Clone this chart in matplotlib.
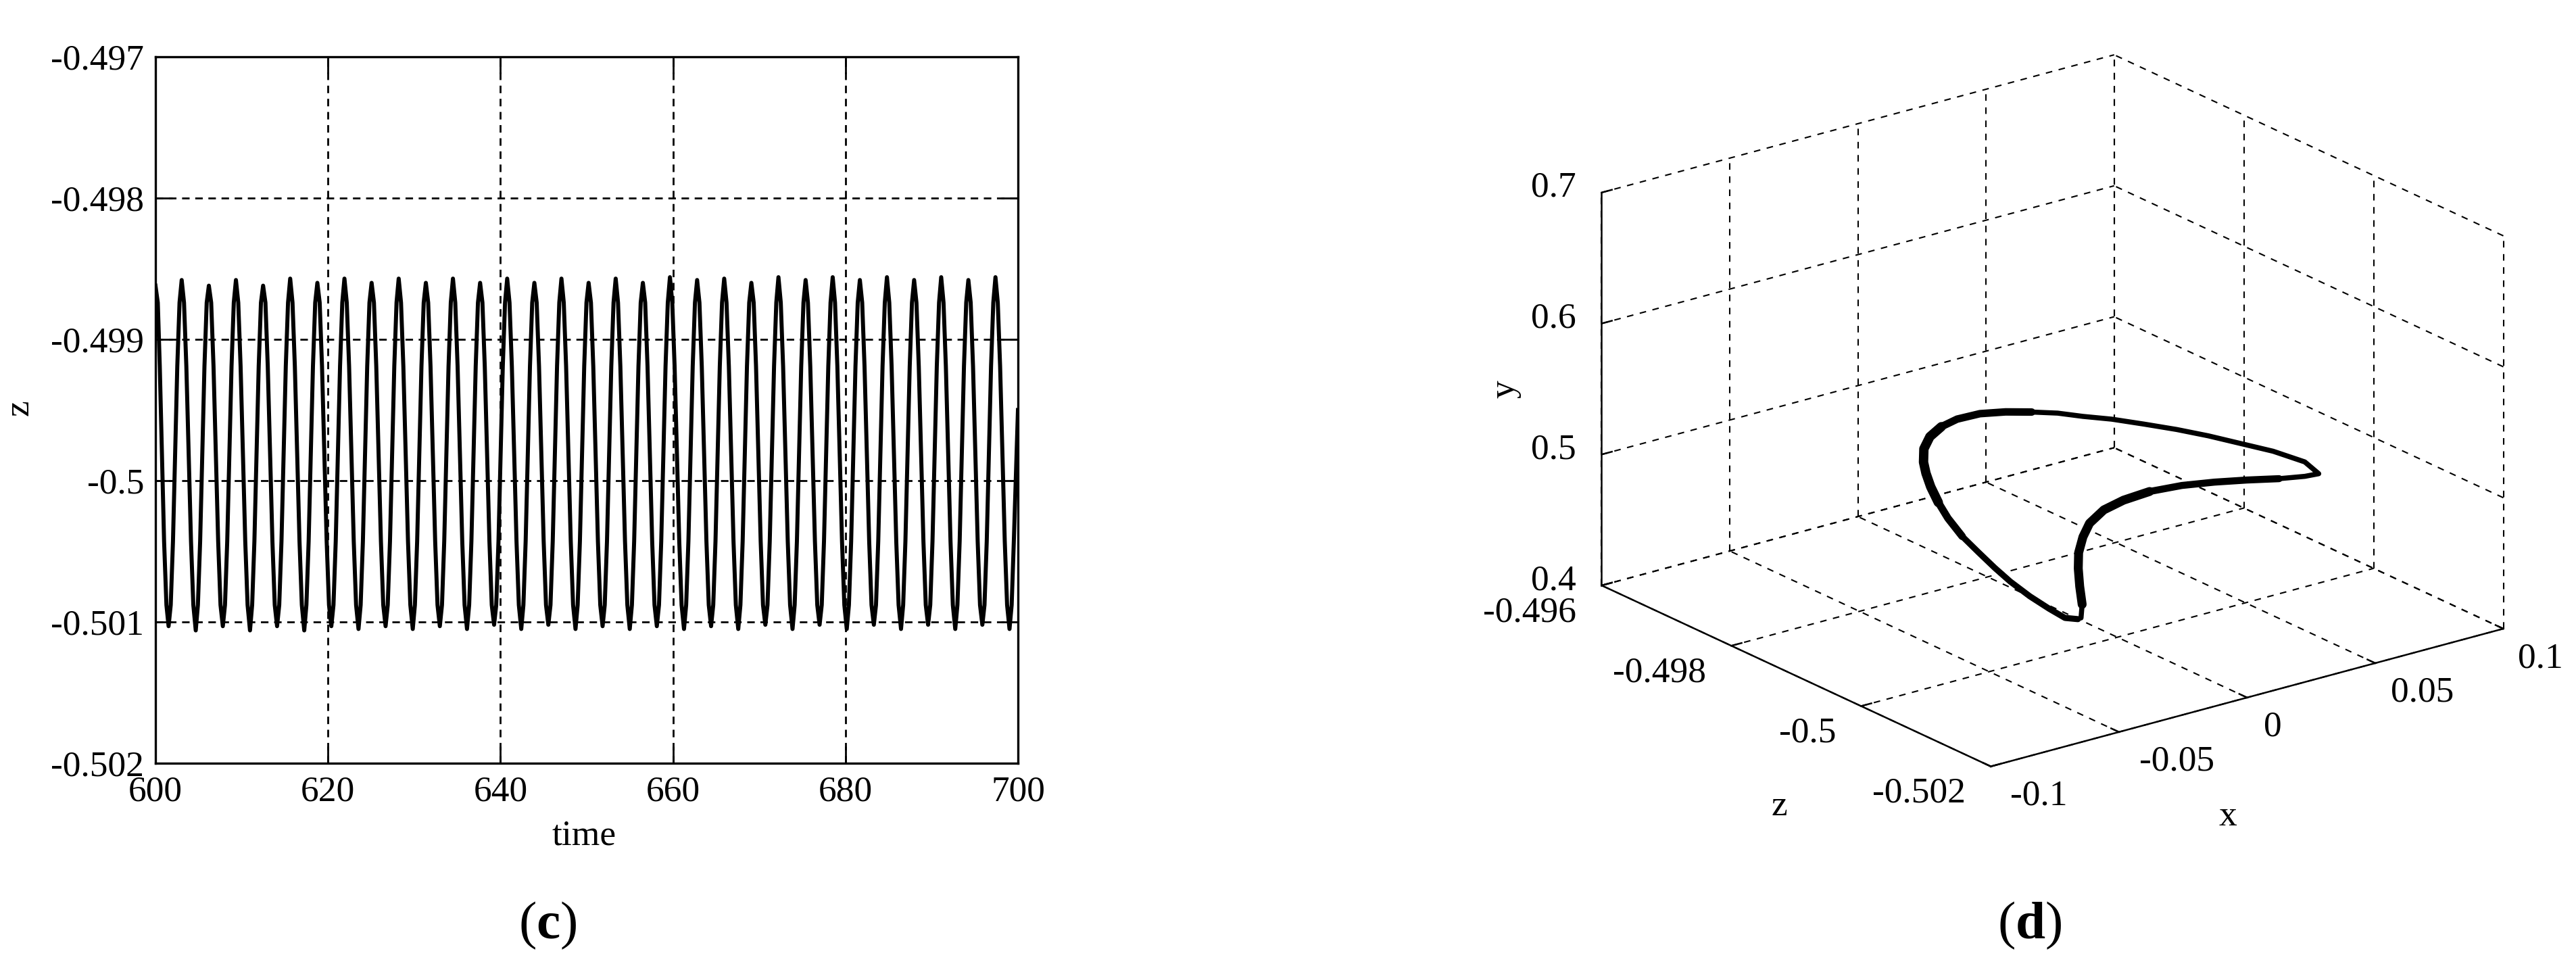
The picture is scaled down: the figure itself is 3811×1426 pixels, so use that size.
import matplotlib
matplotlib.use("Agg")
import matplotlib.pyplot as plt
from matplotlib.transforms import IdentityTransform
from mpl_toolkits.mplot3d import proj3d

plt.rcParams['font.family'] = ['Liberation Serif', 'DejaVu Serif']
plt.rcParams['mathtext.fontset'] = 'custom'
plt.rcParams['mathtext.rm'] = 'Liberation Serif'
plt.rcParams['mathtext.bf'] = 'Liberation Serif:bold'
plt.rcParams['lines.scale_dashes'] = False

# ---------- panel (c) data: z against time ----------
time_c = [
    600.00, 600.27, 600.50, 601.00, 601.27,
    601.52, 601.77, 602.03, 602.53, 602.79, 603.04, 603.31, 603.58, 604.12, 604.39,
    604.67, 604.92, 605.18, 605.68, 605.94, 606.19, 606.46, 606.73, 607.27, 607.54,
    607.81, 608.06, 608.32, 608.82, 609.08, 609.33, 609.60, 609.87, 610.41, 610.68,
    610.96, 611.21, 611.47, 611.97, 612.23, 612.48, 612.75, 613.02, 613.56, 613.83,
    614.10, 614.35, 614.61, 615.11, 615.37, 615.62, 615.89, 616.16, 616.70, 616.97,
    617.25, 617.50, 617.76, 618.26, 618.52, 618.77, 619.04, 619.31, 619.85, 620.12,
    620.39, 620.64, 620.90, 621.40, 621.66, 621.91, 622.18, 622.45, 622.99, 623.26,
    623.54, 623.79, 624.05, 624.55, 624.81, 625.06, 625.33, 625.60, 626.14, 626.41,
    626.68, 626.93, 627.19, 627.69, 627.95, 628.20, 628.47, 628.74, 629.28, 629.55,
    629.83, 630.08, 630.34, 630.84, 631.10, 631.35, 631.62, 631.89, 632.43, 632.70,
    632.97, 633.22, 633.48, 633.98, 634.24, 634.49, 634.76, 635.03, 635.57, 635.84,
    636.12, 636.37, 636.63, 637.13, 637.39, 637.64, 637.91, 638.18, 638.72, 638.99,
    639.26, 639.51, 639.77, 640.27, 640.53, 640.78, 641.05, 641.32, 641.86, 642.13,
    642.41, 642.66, 642.92, 643.42, 643.68, 643.93, 644.20, 644.47, 645.01, 645.28,
    645.55, 645.80, 646.06, 646.56, 646.82, 647.07, 647.34, 647.61, 648.15, 648.42,
    648.70, 648.95, 649.21, 649.71, 649.97, 650.22, 650.49, 650.76, 651.30, 651.57,
    651.84, 652.09, 652.35, 652.85, 653.11, 653.36, 653.63, 653.90, 654.44, 654.71,
    654.99, 655.24, 655.50, 656.00, 656.26, 656.51, 656.78, 657.05, 657.59, 657.86,
    658.13, 658.38, 658.64, 659.14, 659.40, 659.65, 659.92, 660.19, 660.73, 661.00,
    661.28, 661.53, 661.79, 662.29, 662.55, 662.80, 663.07, 663.34, 663.88, 664.15,
    664.42, 664.67, 664.93, 665.43, 665.69, 665.94, 666.21, 666.48, 667.02, 667.29,
    667.57, 667.82, 668.08, 668.58, 668.84, 669.09, 669.36, 669.63, 670.17, 670.44,
    670.71, 670.96, 671.22, 671.72, 671.98, 672.23, 672.50, 672.77, 673.31, 673.58,
    673.86, 674.11, 674.37, 674.87, 675.13, 675.38, 675.65, 675.92, 676.46, 676.73,
    677.00, 677.25, 677.51, 678.01, 678.27, 678.52, 678.79, 679.06, 679.60, 679.87,
    680.15, 680.40, 680.66, 681.16, 681.42, 681.67, 681.94, 682.21, 682.75, 683.02,
    683.29, 683.54, 683.80, 684.30, 684.56, 684.81, 685.08, 685.35, 685.89, 686.16,
    686.44, 686.69, 686.95, 687.45, 687.71, 687.96, 688.23, 688.50, 689.04, 689.31,
    689.58, 689.83, 690.09, 690.59, 690.85, 691.10, 691.37, 691.64, 692.18, 692.45,
    692.73, 692.98, 693.24, 693.74, 694.00, 694.25, 694.52, 694.79, 695.33, 695.60,
    695.87, 696.12, 696.38, 696.88, 697.14, 697.39, 697.66, 697.93, 698.47, 698.74,
    699.02, 699.27, 699.52, 700.00,
]
z_c = [
    -.49862, -.49874, -.49919, -.50043, -.50088,
    -.50103, -.50088, -.50043, -.49919, -.49874, -.49858, -.49874, -.49919, -.50043, -.50088,
    -.50106, -.50088, -.50043, -.49919, -.49874, -.49862, -.49874, -.49919, -.50043, -.50088,
    -.50103, -.50088, -.50043, -.49919, -.49874, -.49858, -.49874, -.49919, -.50043, -.50088,
    -.50106, -.50088, -.50043, -.49919, -.49874, -.49862, -.49874, -.49919, -.50043, -.50088,
    -.50103, -.50088, -.50043, -.49919, -.49874, -.49857, -.49874, -.49919, -.50043, -.50088,
    -.50106, -.50088, -.50043, -.49919, -.49874, -.49860, -.49874, -.49919, -.50043, -.50088,
    -.50103, -.50088, -.50043, -.49919, -.49874, -.49857, -.49874, -.49919, -.50043, -.50088,
    -.50105, -.50088, -.50043, -.49919, -.49874, -.49860, -.49874, -.49919, -.50043, -.50088,
    -.50103, -.50088, -.50043, -.49919, -.49874, -.49857, -.49874, -.49919, -.50043, -.50088,
    -.50105, -.50088, -.50043, -.49919, -.49874, -.49860, -.49874, -.49919, -.50043, -.50088,
    -.50103, -.50088, -.50043, -.49919, -.49874, -.49857, -.49874, -.49919, -.50043, -.50088,
    -.50105, -.50088, -.50043, -.49919, -.49874, -.49860, -.49874, -.49919, -.50043, -.50088,
    -.50102, -.50088, -.50043, -.49919, -.49874, -.49857, -.49874, -.49919, -.50043, -.50088,
    -.50105, -.50088, -.50043, -.49919, -.49874, -.49860, -.49874, -.49919, -.50043, -.50088,
    -.50102, -.50088, -.50043, -.49919, -.49874, -.49857, -.49874, -.49919, -.50043, -.50088,
    -.50105, -.50088, -.50043, -.49919, -.49874, -.49860, -.49874, -.49919, -.50043, -.50088,
    -.50103, -.50088, -.50043, -.49919, -.49874, -.49857, -.49874, -.49919, -.50043, -.50088,
    -.50105, -.50088, -.50043, -.49919, -.49874, -.49860, -.49874, -.49919, -.50043, -.50088,
    -.50103, -.50088, -.50043, -.49919, -.49874, -.49856, -.49874, -.49919, -.50043, -.50088,
    -.50105, -.50088, -.50043, -.49919, -.49874, -.49858, -.49874, -.49919, -.50043, -.50088,
    -.50103, -.50088, -.50043, -.49919, -.49874, -.49857, -.49874, -.49919, -.50043, -.50088,
    -.50105, -.50088, -.50043, -.49919, -.49874, -.49860, -.49874, -.49919, -.50043, -.50088,
    -.50102, -.50088, -.50043, -.49919, -.49874, -.49856, -.49874, -.49919, -.50043, -.50088,
    -.50105, -.50088, -.50043, -.49919, -.49874, -.49858, -.49874, -.49919, -.50043, -.50088,
    -.50102, -.50088, -.50043, -.49919, -.49874, -.49856, -.49874, -.49919, -.50043, -.50088,
    -.50105, -.50088, -.50043, -.49919, -.49874, -.49858, -.49874, -.49919, -.50043, -.50088,
    -.50102, -.50088, -.50043, -.49919, -.49874, -.49856, -.49874, -.49919, -.50043, -.50088,
    -.50105, -.50088, -.50043, -.49919, -.49874, -.49858, -.49874, -.49919, -.50043, -.50088,
    -.50102, -.50088, -.50043, -.49919, -.49874, -.49856, -.49874, -.49919, -.50043, -.50088,
    -.50105, -.50088, -.50043, -.49919, -.49874, -.49858, -.49874, -.49919, -.50043, -.50088,
    -.50102, -.50088, -.50043, -.49919, -.49874, -.49856, -.49874, -.49919, -.50043, -.50088,
    -.50105, -.50088, -.50043, -.49950,
]
time_ticks = [600, 620, 640, 660, 680, 700]
z_ticks_c = [-0.497, -0.498, -0.499, -0.5, -0.501, -0.502]
z_labels_c = ['-0.497', '-0.498', '-0.499', '-0.5', '-0.501', '-0.502']

# ---------- panel (d) data: closed orbit ----------
x_d = [-.0417, -.0460, -.0499, -.0544, -.0590, -.0605, -.0623, -.0641, -.0651,
       -.0643, -.0627, -.0600, -.0564, -.0517, -.0448, -.0373, -.0281, -.0177,
       -.0077, .0010, .0081, .0149, .0216, .0297, .0378, .0456, .0537, .0618,
       .0696, .0720, .0651, .0535, .0393, .0252, .0110, -.0031, -.0148, -.0240,
       -.0311, -.0352, -.0384, -.0393, -.0395, -.0393, -.0405]
y_d = [.4597, .4622, .4692, .4783, .4892, .4963, .5050, .5140, .5242,
       .5317, .5386, .5434, .5458, .5494, .5509, .5518, .5500, .5473,
       .5434, .5401, .5383, .5350, .5335, .5296, .5254, .5206, .5146, .5086,
       .5005, .4930, .4960, .5017, .5095, .5167, .5230, .5272, .5281, .5269,
       .5218, .5149, .5059, .4951, .4822, .4690, .4600]
z_d = [-.50104, -.50101, -.50092, -.50080, -.50068, -.50050, -.50032, -.50014, -.49996,
       -.49978, -.49960, -.49942, -.49924, -.49906, -.49888, -.49876, -.49864, -.49858,
       -.49858, -.49864, -.49876, -.49888, -.49906, -.49924, -.49942, -.49960, -.49978, -.49996,
       -.50014, -.50026, -.50032, -.50038, -.50044, -.50050, -.50056, -.50062, -.50068, -.50074,
       -.50080, -.50086, -.50092, -.50095, -.50098, -.50101, -.50104]
x_ticks_d = [-0.1, -0.05, 0, 0.05, 0.1]
x_labels_d = ['-0.1', '-0.05', '0', '0.05', '0.1']
y_ticks_d = [0.4, 0.5, 0.6, 0.7]
y_labels_d = ['0.4', '0.5', '0.6', '0.7']
z_ticks_d = [-0.496, -0.498, -0.5, -0.502]
z_labels_d = ['-0.496', '-0.498', '-0.5', '-0.502']

W, H = 3812, 1426
FS = 38.5
fig = plt.figure(figsize=(W / 100, H / 100), dpi=100, facecolor='white')


def frac_rect(x0, y0, x1, y1):
    return [x0 / W, 1 - y1 / H, (x1 - x0) / W, (y1 - y0) / H]


# ---------- panel (c) ----------
ax = fig.add_axes(frac_rect(230, 84, 1506, 1129))
ax.plot(time_c, z_c, color='black', lw=4.3, solid_joinstyle='round', zorder=3)
ax.set_xlim(600, 700)
ax.set_ylim(-0.502, -0.497)
ax.set_xticks(time_ticks)
ax.set_yticks(z_ticks_c)
ax.set_yticklabels(z_labels_c)
ax.grid(True, color='black', lw=2.0, linestyle=(0, (8.0, 6.0)))
ax.tick_params(direction='in', length=18, width=2.0, top=True, right=True,
               labelsize=FS, pad=12)
ax.tick_params(axis='x', pad=13)
for s in ax.spines.values():
    s.set_linewidth(2.4)
    s.set_zorder(5)
fig.text(864, H - 1237, 'time', transform=IdentityTransform(), fontsize=FS,
         ha='center', va='center')
fig.text(29, H - 603, 'z', transform=IdentityTransform(), fontsize=FS,
         ha='center', va='center', rotation=90)
fig.text(810, H - 1369, r'($\mathbf{c}$)', transform=IdentityTransform(),
         fontsize=57, ha='center', va='center')
fig.text(3003, H - 1369, r'($\mathbf{d}$)', transform=IdentityTransform(),
         fontsize=57, ha='center', va='center')

# ---------- panel (d) ----------
S0 = 1700
ax3 = fig.add_axes([0.5, 0.1, S0 / W, S0 / H], projection='3d', proj_type='ortho')
ax3.computed_zorder = False
ax3.set_axis_off()
ax3.view_init(elev=20.7, azim=-127.24)
ax3.set_box_aspect((952, 951, 621))
x0, x1 = x_ticks_d[0], x_ticks_d[-1]
y0, y1 = y_ticks_d[0], y_ticks_d[-1]
z0, z1 = z_ticks_d[-1], z_ticks_d[0]
ax3.set_xlim(x0, x1, view_margin=0)
ax3.set_ylim(z0, z1, view_margin=0)
ax3.set_zlim(y0, y1, view_margin=0)


def to_px(x, z, y):
    ax3.apply_aspect()
    px, py, _ = proj3d.proj_transform(x, z, y, ax3.get_proj())
    return ax3.transData.transform((px, py))


# fit the projected box onto its place in the figure
target_left = (2369.5, H - 866)
target_right = (3703.5, H - 930)
pl, pr = to_px(x0, z1, y0), to_px(x1, z0, y0)
S = S0 * (target_right[0] - target_left[0]) / (pr[0] - pl[0])
ax3.set_position([0.5, 0.1, S / W, S / H])
pl = to_px(x0, z1, y0)
ax3.set_position([0.5 + (target_left[0] - pl[0]) / W,
                  0.1 + (target_left[1] - pl[1]) / H, S / W, S / H])

grid = dict(color='black', lw=1.5, linestyle=(0, (7.0, 7.0)), zorder=1)
solid = dict(color='black', lw=1.8, zorder=2)
for xv in x_ticks_d:
    ax3.plot([xv, xv], [z0, z1], [y0, y0], **grid)
    ax3.plot([xv, xv], [z1, z1], [y0, y1], **grid)
for zv in z_ticks_d:
    ax3.plot([x0, x1], [zv, zv], [y0, y0], **grid)
    ax3.plot([x1, x1], [zv, zv], [y0, y1], **grid)
for yv in y_ticks_d:
    ax3.plot([x0, x1], [z1, z1], [yv, yv], **grid)
    ax3.plot([x1, x1], [z0, z1], [yv, yv], **grid)
ax3.plot([x0, x0], [z1, z1], [y0, y1], **solid)
ax3.plot([x0, x0], [z0, z1], [y0, y0], **solid)
ax3.plot([x0, x1], [z0, z0], [y0, y0], **solid)
# short tick marks along the grid directions
for xv in x_ticks_d:
    ax3.plot([xv, xv], [z0, z0 + 0.00012], [y0, y0], **solid)
for zv in z_ticks_d:
    ax3.plot([x0, x0 + 0.004], [zv, zv], [y0, y0], **solid)
for yv in y_ticks_d:
    ax3.plot([x0, x0 + 0.004], [z1, z1], [yv, yv], **solid)

# the orbit thickens where successive turns lie side by side
orbit_widths = [(0, 45, 5.4), (0, 10, 6.5), (7, 11, 8.0), (9, 16, 10.0), (15, 20, 8.0),
                (31, 37, 7.5), (35, 44, 9.5)]
for i0, i1, lw in orbit_widths:
    ax3.plot(x_d[i0:i1], z_d[i0:i1], y_d[i0:i1], color='black', lw=lw,
             solid_joinstyle='round', solid_capstyle='round', zorder=3)

tf = IdentityTransform()
for yv, lab in zip(y_ticks_d, y_labels_d):
    p = to_px(x0, z1, yv)
    fig.text(p[0] - 38, p[1] + 7, lab, transform=tf, fontsize=FS, ha='right', va='center')
for zv, lab in zip(z_ticks_d, z_labels_d):
    p = to_px(x0, zv, y0)
    fig.text(p[0] - 37, p[1] - 40, lab, transform=tf, fontsize=FS, ha='right', va='center')
for xv, lab, dx in zip(x_ticks_d, x_labels_d, [71, 86, 38, 70, 55]):
    p = to_px(xv, z0, y0)
    fig.text(p[0] + dx, p[1] - 44, lab, transform=tf, fontsize=FS, ha='center', va='center')
fig.text(2632.5, H - 1193, 'z', transform=tf, fontsize=FS, ha='center', va='center')
fig.text(3296, H - 1208, 'x', transform=tf, fontsize=FS, ha='center', va='center')
fig.text(2226, H - 576, 'y', transform=tf, fontsize=FS, ha='center', va='center', rotation=90)

fig.savefig('out.png', dpi=100, facecolor='white')
